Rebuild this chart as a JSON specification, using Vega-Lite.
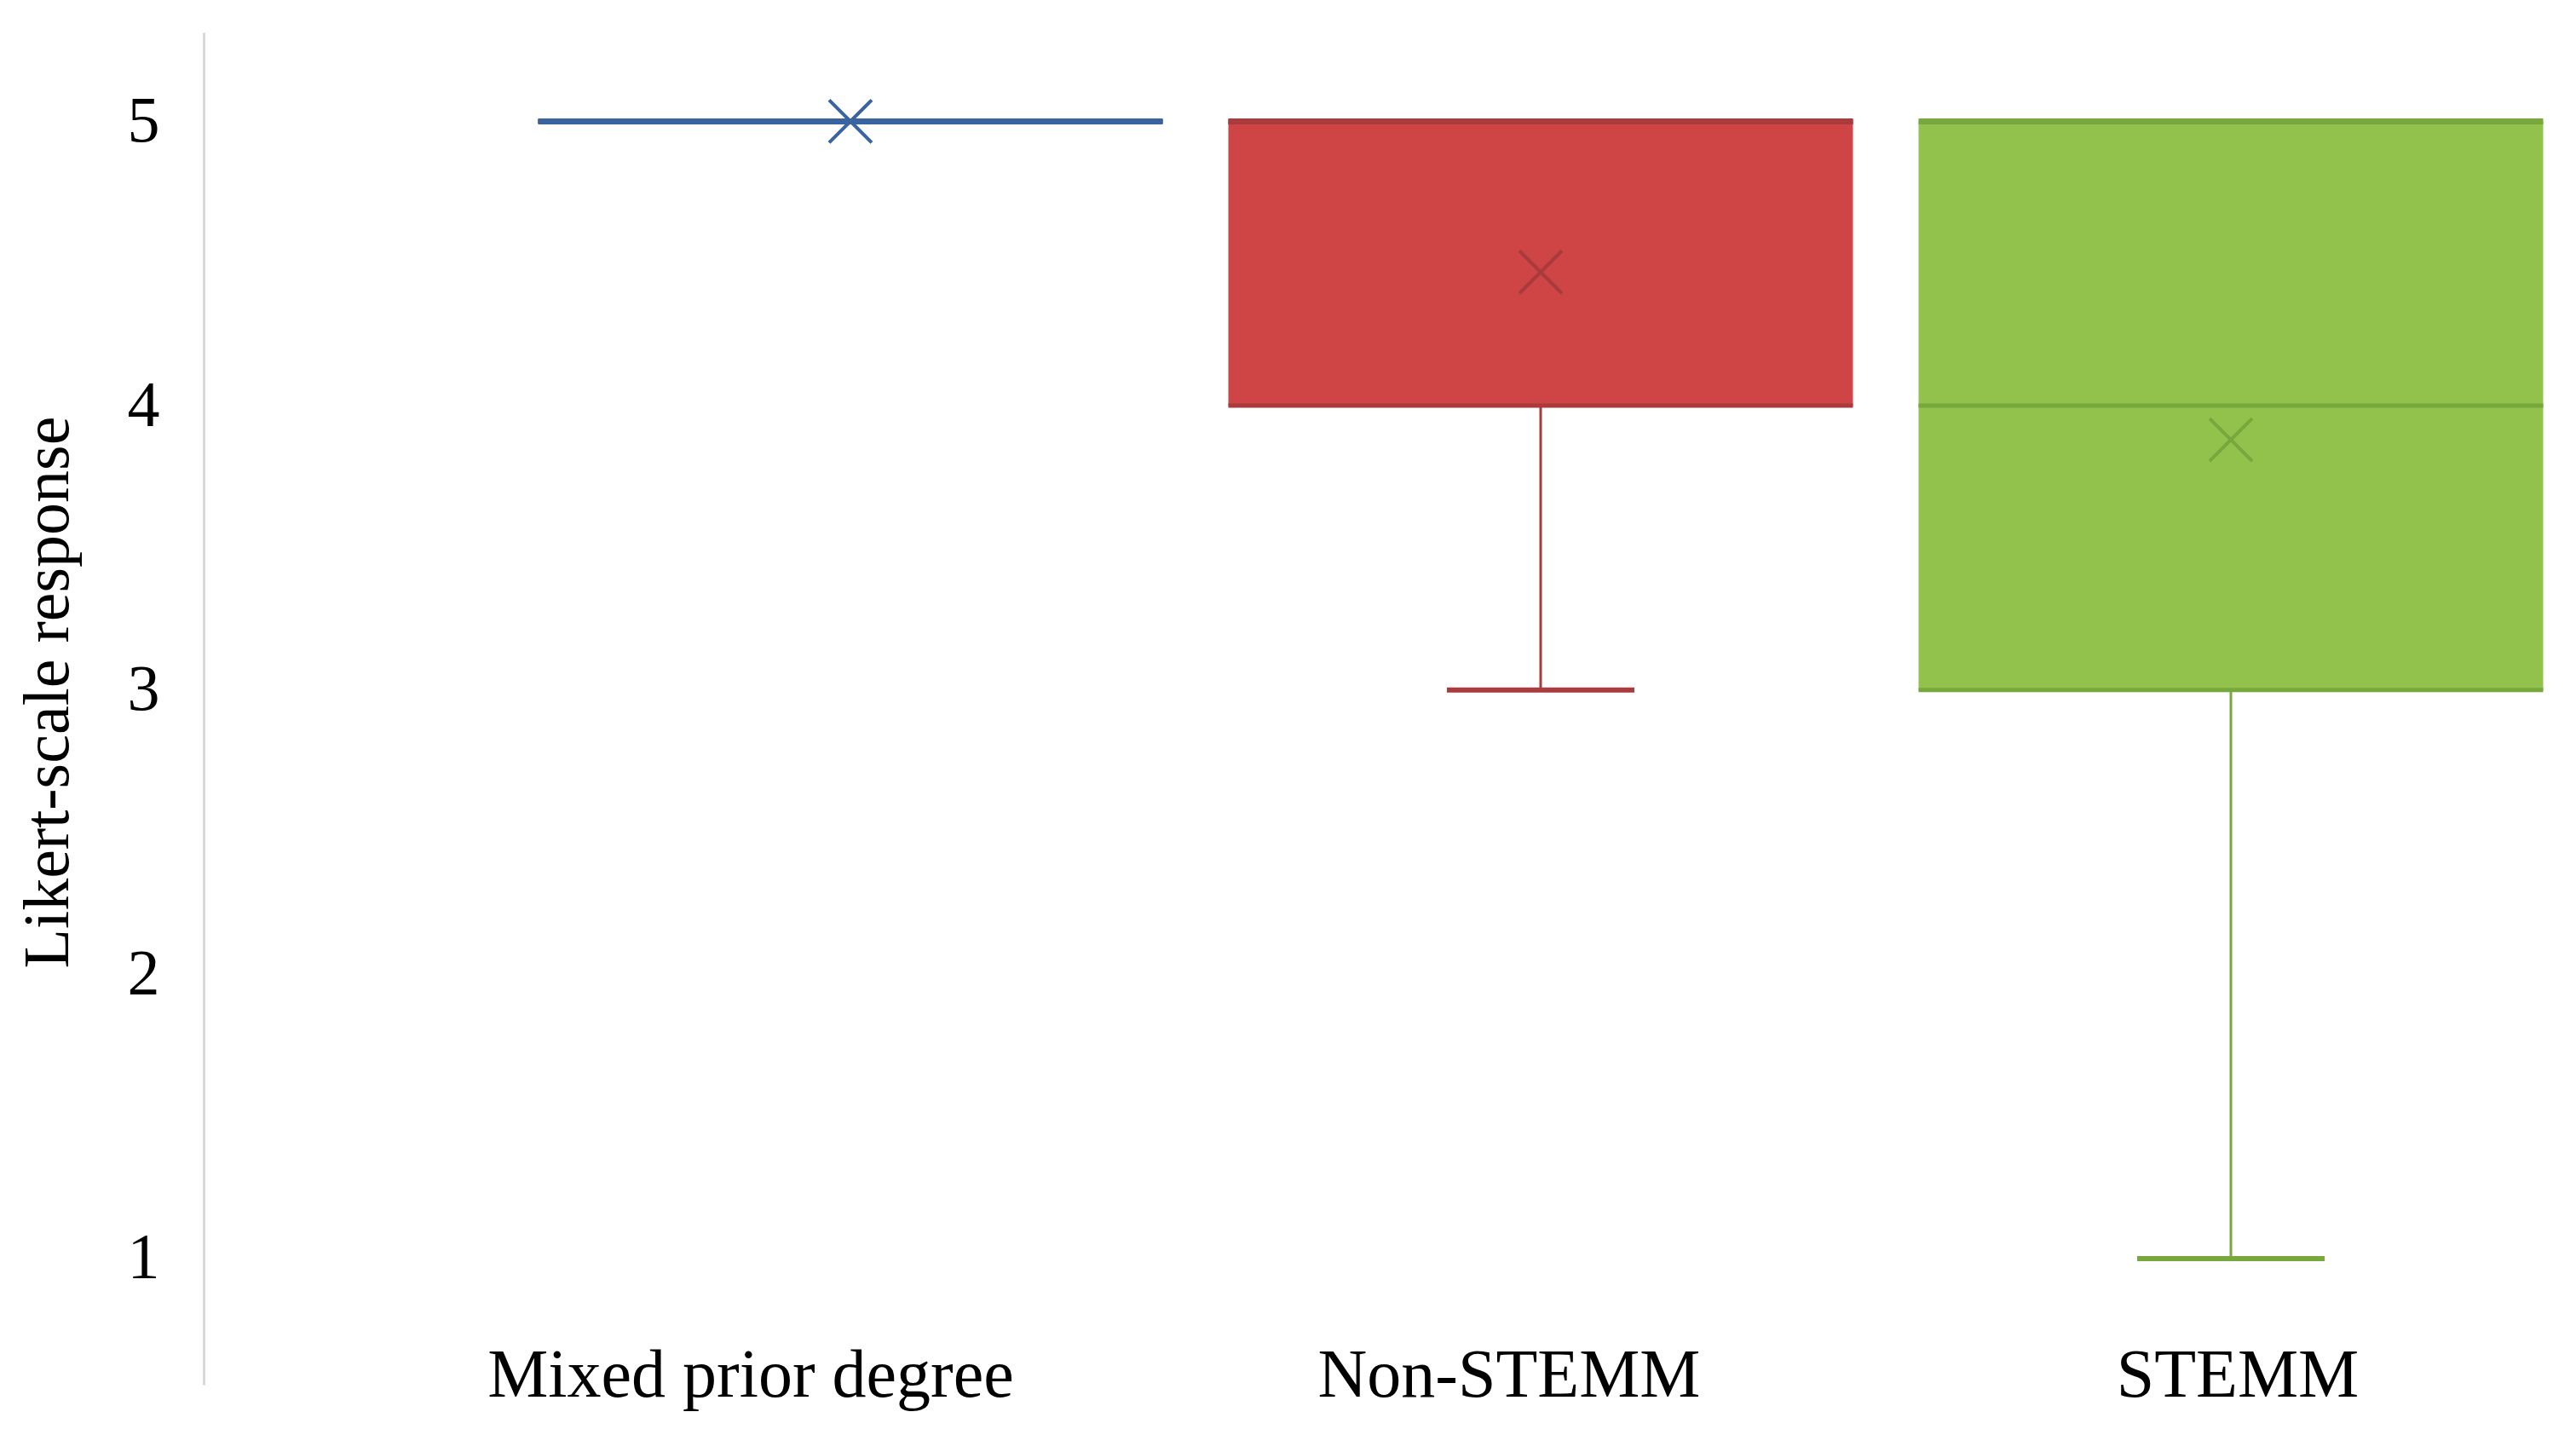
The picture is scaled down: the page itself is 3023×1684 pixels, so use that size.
{
  "$schema": "https://vega.github.io/schema/vega-lite/v6.json",
  "autosize": {"type": "none"},
  "width": 2784,
  "height": 1587,
  "padding": {"left": 239, "top": 38, "right": 0, "bottom": 59},
  "background": "white",
  "config": {
    "view": {"stroke": null},
    "font": "Liberation Serif",
    "axis": {"labelColor": "#000000", "titleColor": "#000000", "grid": false, "ticks": false, "labelLimit": 0},
    "axisY": {
      "domainColor": "#d9d9d9",
      "domainWidth": 3,
      "labelFontSize": 76,
      "labelPadding": 52,
      "titleFontSize": 76,
      "titleFontWeight": "normal",
      "titleX": -160,
      "titleY": 774,
      "titleBaseline": "alphabetic",
      "titleAngle": 270
    }
  },
  "data": {
    "values": [
      {"group": "Mixed prior degree", "min": 5, "q1": 5, "median": 5, "q3": 5, "max": 5, "mean": 5},
      {"group": "Non-STEMM", "min": 3, "q1": 4, "median": 5, "q3": 5, "max": 5, "mean": 4.47},
      {"group": "STEMM", "min": 1, "q1": 3, "median": 4, "q3": 5, "max": 5, "mean": 3.88}
    ]
  },
  "encoding": {
    "x": {
      "field": "group",
      "type": "nominal",
      "sort": null,
      "scale": {"paddingInner": 0, "paddingOuter": 0.2185, "align": 1},
      "axis": {
        "title": null,
        "domain": false,
        "ticks": false,
        "labelAngle": 0,
        "labelFontSize": 80,
        "labelBaseline": "alphabetic",
        "labelPadding": 13,
        "labelLimit": 0,
        "labelOffset": {
          "condition": [
            {"test": "datum.value === 'Mixed prior degree'", "value": -117},
            {"test": "datum.value === 'Non-STEMM'", "value": -37}
          ],
          "value": 8
        }
      }
    }
  },
  "layer": [
    {
      "mark": {"type": "bar", "width": 733},
      "encoding": {
        "y": {
          "field": "q1",
          "type": "quantitative",
          "scale": {"domain": [0.556, 5.313], "nice": false, "zero": false},
          "axis": {"title": "Likert-scale response", "values": [1, 2, 3, 4, 5]}
        },
        "y2": {"field": "q3"},
        "fill": {
          "field": "group",
          "type": "nominal",
          "scale": {"domain": ["Mixed prior degree", "Non-STEMM", "STEMM"], "range": ["#4f81bd", "#cf4545", "#92c14c"]},
          "legend": null
        }
      }
    },
    {
      "mark": {"type": "rule", "strokeWidth": 3},
      "encoding": {
        "y": {"field": "min", "type": "quantitative", "axis": {"title": "Likert-scale response", "values": [1, 2, 3, 4, 5]}},
        "y2": {"field": "q1"},
        "color": {
          "field": "group",
          "type": "nominal",
          "scale": {"domain": ["Mixed prior degree", "Non-STEMM", "STEMM"], "range": ["#3a64a0", "#a93b3d", "#77a83d"]},
          "legend": null
        }
      }
    },
    {
      "mark": {"type": "rule", "strokeWidth": 3},
      "encoding": {
        "y": {"field": "q3", "type": "quantitative", "axis": {"title": "Likert-scale response", "values": [1, 2, 3, 4, 5]}},
        "y2": {"field": "max"},
        "color": {"field": "group", "type": "nominal", "legend": null}
      }
    },
    {
      "mark": {"type": "tick", "size": 220, "thickness": 6, "opacity": 1},
      "encoding": {
        "y": {"field": "min", "type": "quantitative", "axis": {"title": "Likert-scale response", "values": [1, 2, 3, 4, 5]}},
        "color": {"field": "group", "type": "nominal", "legend": null}
      }
    },
    {
      "mark": {"type": "tick", "size": 220, "thickness": 6, "opacity": 1},
      "encoding": {
        "y": {"field": "max", "type": "quantitative", "axis": {"title": "Likert-scale response", "values": [1, 2, 3, 4, 5]}},
        "color": {"field": "group", "type": "nominal", "legend": null}
      }
    },
    {
      "mark": {"type": "tick", "size": 733, "thickness": 5, "opacity": 1},
      "encoding": {
        "y": {"field": "q1", "type": "quantitative", "axis": {"title": "Likert-scale response", "values": [1, 2, 3, 4, 5]}},
        "color": {"field": "group", "type": "nominal", "legend": null}
      }
    },
    {
      "mark": {"type": "tick", "size": 733, "thickness": 7, "opacity": 1},
      "encoding": {
        "y": {"field": "q3", "type": "quantitative", "axis": {"title": "Likert-scale response", "values": [1, 2, 3, 4, 5]}},
        "color": {"field": "group", "type": "nominal", "legend": null}
      }
    },
    {
      "mark": {"type": "tick", "size": 733, "thickness": 5, "opacity": 1},
      "encoding": {
        "y": {"field": "median", "type": "quantitative", "axis": {"title": "Likert-scale response", "values": [1, 2, 3, 4, 5]}},
        "color": {"field": "group", "type": "nominal", "legend": null}
      }
    },
    {
      "mark": {"type": "point", "shape": "M-1,-1L1,1M1,-1L-1,1", "size": 2500, "strokeWidth": 4, "filled": false, "opacity": 1},
      "encoding": {
        "y": {"field": "mean", "type": "quantitative", "axis": {"title": "Likert-scale response", "values": [1, 2, 3, 4, 5]}},
        "color": {"field": "group", "type": "nominal", "legend": null}
      }
    }
  ]
}
